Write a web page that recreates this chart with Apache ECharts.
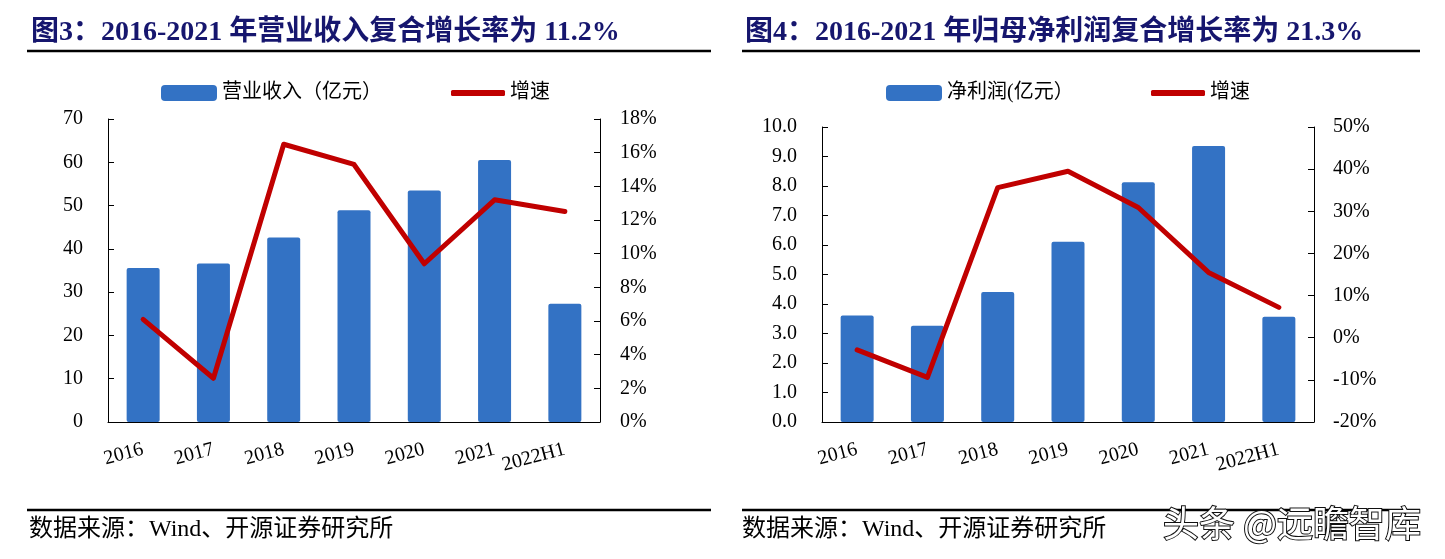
<!DOCTYPE html>
<html>
<head>
<meta charset="utf-8">
<script src="https://cdn.jsdelivr.net/npm/echarts@6/dist/echarts.min.js"></script>
<style>
html,body{margin:0;padding:0;background:#fff;}
#c{width:1445px;height:559px;}
</style>
</head>
<body>
<div id="c"></div>
<script>
const categories = ['2016','2017','2018','2019','2020','2021','2022H1'];
const revenue = [35.6, 36.6, 42.6, 48.9, 53.5, 60.5, 27.3];
const revenueGrowth = [6.1, 2.6, 16.5, 15.3, 9.4, 13.2, 12.5];
const netProfit = [3.61, 3.26, 4.41, 6.11, 8.13, 9.36, 3.57];
const profitGrowth = [-2.9, -9.4, 35.6, 39.5, 30.9, 15.5, 7.2];
const leftTicks = {min: 0, max: 70, interval: 10};
const leftTicksPct = {min: 0, max: 18, interval: 2};
const rightTicks = {min: 0, max: 10, interval: 1};
const rightTicksPct = {min: -20, max: 50, interval: 10};

const serif = '"Liberation Serif","Noto Sans CJK SC",serif';
const cjk = '"Liberation Serif","Noto Sans CJK SC",sans-serif';
const BLUE = '#3372C4';
const RED = '#C00000';
const NAVY = '#16166E';

const chart = echarts.init(document.getElementById('c'));

function yAx(grid, cfg, pos, fmt, margin) {
  return {
    type: 'value', gridIndex: grid, position: pos,
    min: cfg.min, max: cfg.max, interval: cfg.interval,
    axisLine: {show: true, lineStyle: {color: '#000', width: 1}},
    axisTick: {show: true, inside: true, length: 6, lineStyle: {color: '#000'}},
    splitLine: {show: false},
    axisLabel: {color: '#000', fontFamily: serif, fontSize: 20, margin: margin, formatter: fmt}
  };
}
function xAx(grid) {
  return {
    type: 'category', gridIndex: grid, data: categories,
    axisLine: {lineStyle: {color: '#000', width: 1}},
    axisTick: {inside: true, length: 6, lineStyle: {color: '#000'}},
    axisLabel: {color: '#000', fontFamily: serif, fontSize: 20, rotate: 15, margin: 27, interval: 0}
  };
}
function legendItem(name, left, top, isLine, label) {
  return {
    data: [name], left: left, top: top, padding: 0,
    icon: 'roundRect',
    itemWidth: isLine ? 54 : 56, itemHeight: isLine ? 6 : 16,
    itemGap: 5,
    formatter: function(){ return label; },
    textStyle: {fontFamily: cjk, fontSize: 20, color: '#000', padding: [0,0,0,0]},
    selectedMode: false
  };
}

const option = {
  animation: false,
  backgroundColor: '#fff',
  title: [
    {text: '图3：2016-2021 年营业收入复合增长率为 11.2%', left: 31, top: 19, padding: 0,
     textStyle: {fontFamily: serif, fontSize: 28, fontWeight: 'bold', color: NAVY}},
    {text: '图4：2016-2021 年归母净利润复合增长率为 21.3%', left: 745, top: 19, padding: 0,
     textStyle: {fontFamily: serif, fontSize: 28, fontWeight: 'bold', color: NAVY}}
  ],
  legend: [
    legendItem('营业收入', 161, 83, false, '营业收入（亿元）'),
    legendItem('增速1', 451, 83, true, '增速'),
    legendItem('净利润', 886, 83, false, '净利润(亿元）'),
    legendItem('增速2', 1151, 83, true, '增速')
  ],
  grid: [
    {left: 108, top: 119, width: 492, height: 303},
    {left: 822, top: 127, width: 492, height: 295}
  ],
  xAxis: [xAx(0), xAx(1)],
  yAxis: [
    yAx(0, leftTicks, 'left', '{value}', 25),
    yAx(0, leftTicksPct, 'right', '{value}%', 20),
    yAx(1, rightTicks, 'left', function(v){ return v.toFixed(1); }, 25),
    yAx(1, rightTicksPct, 'right', '{value}%', 19)
  ],
  series: [
    {name: '营业收入', type: 'bar', xAxisIndex: 0, yAxisIndex: 0, data: revenue, barWidth: 33,
     itemStyle: {color: BLUE, borderRadius: 2}},
    {name: '增速1', type: 'line', xAxisIndex: 0, yAxisIndex: 1, data: revenueGrowth, symbol: 'none',
     itemStyle: {color: RED}, lineStyle: {color: RED, width: 5, cap: 'round', join: 'round'}, z: 5},
    {name: '净利润', type: 'bar', xAxisIndex: 1, yAxisIndex: 2, data: netProfit, barWidth: 33,
     itemStyle: {color: BLUE, borderRadius: 2}},
    {name: '增速2', type: 'line', xAxisIndex: 1, yAxisIndex: 3, data: profitGrowth, symbol: 'none',
     itemStyle: {color: RED}, lineStyle: {color: RED, width: 5, cap: 'round', join: 'round'}, z: 5}
  ],
  graphic: [
    {type: 'line', shape: {x1: 27, y1: 51, x2: 711, y2: 51}, style: {stroke: '#000', lineWidth: 2.5}},
    {type: 'line', shape: {x1: 742, y1: 51, x2: 1420, y2: 51}, style: {stroke: '#000', lineWidth: 2.5}},
    {type: 'line', shape: {x1: 27, y1: 510, x2: 711, y2: 510}, style: {stroke: '#000', lineWidth: 2.5}},
    {type: 'line', shape: {x1: 742, y1: 510, x2: 1420, y2: 510}, style: {stroke: '#000', lineWidth: 2.5}},
    {type: 'text', left: 29, top: 518, style: {text: '数据来源：Wind、开源证券研究所', font: '24px ' + cjk, fill: '#000'}},
    {type: 'text', left: 742, top: 518, style: {text: '数据来源：Wind、开源证券研究所', font: '24px ' + cjk, fill: '#000'}},
    {type: 'text', left: 1162, top: 504, z: 100, style: {text: '头条 @远瞻智库', font: '36px "Noto Sans CJK SC",sans-serif',
      fill: '#fff', stroke: '#111', lineWidth: 2, shadowColor: 'rgba(0,0,0,0.9)', shadowOffsetX: -1, shadowOffsetY: 1}}
  ]
};
chart.setOption(option);
</script>
</body>
</html>
